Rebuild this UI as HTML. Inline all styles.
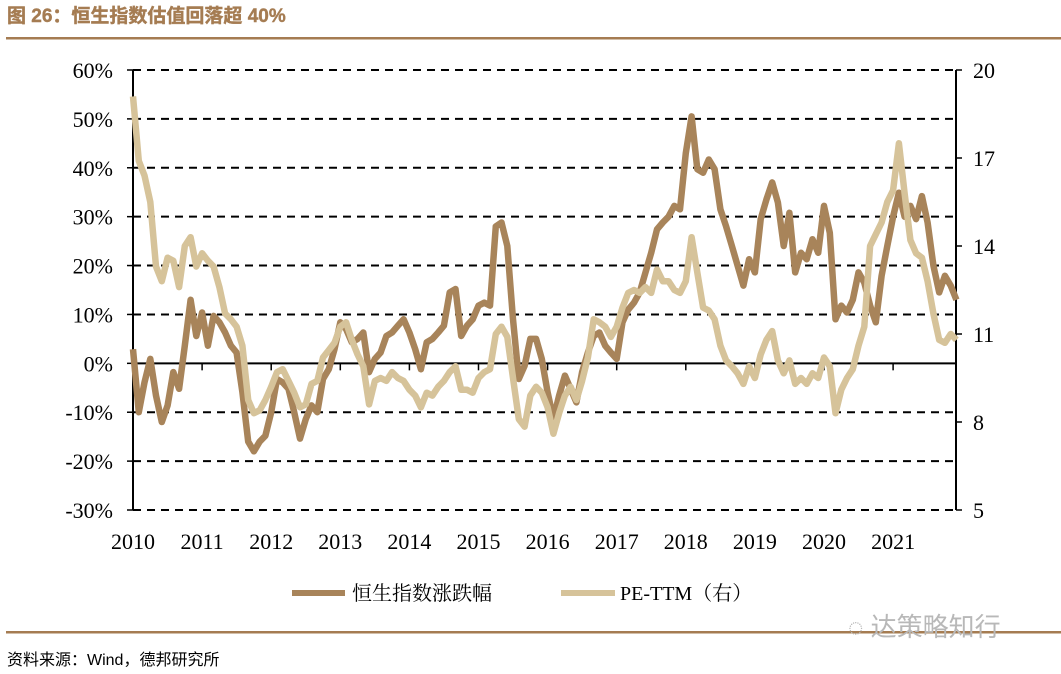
<!DOCTYPE html>
<html><head><meta charset="utf-8"><style>
body{margin:0;background:#fff;}
svg{display:block;font-family:"Liberation Serif","Noto Serif CJK SC",serif;}
</style></head><body>
<svg id="chart" width="1061" height="674" viewBox="0 0 1061 674">
<text x="7" y="22" font-family="Liberation Sans, Noto Sans CJK SC, sans-serif" font-weight="bold" font-size="19" fill="#a57c52" stroke="#a57c52" stroke-width="0.4">图 26：恒生指数估值回落超 40%</text>
<rect x="6" y="37" width="1055" height="2.5" fill="#a57c52"/>
<g id="grid"></g>
<g id="axes"></g>
<g id="series"></g>
<g>
<line x1="292" y1="593" x2="345" y2="593" stroke="#a8845a" stroke-width="6"/>
<text x="352" y="600" font-size="20" font-family="Liberation Serif, Noto Serif CJK SC, serif">恒生指数涨跌幅</text>
<line x1="561" y1="593" x2="615" y2="593" stroke="#d6c39a" stroke-width="6"/>
<text x="620" y="600" font-size="20">PE-TTM（右）</text>
</g>
<rect x="6" y="631" width="1055" height="2.5" fill="#a57c52"/>
<text x="848" y="636" font-size="26" fill="#b8b8b8" font-family="Liberation Sans, Noto Sans CJK SC, sans-serif">◌ 达策略知行</text>
<text x="7" y="665" font-size="16" font-family="Liberation Sans, Noto Sans CJK SC, sans-serif">资料来源：Wind，德邦研究所</text>
</svg>
<script>
const leftTicks=[60,50,40,30,20,10,0,-10,-20,-30];
const rightTicks=[20,17,14,11,8,5];
const yearLabels=["2010","2011","2012","2013","2014","2015","2016","2017","2018","2019","2020","2021"];
const hsiChange=[2.9,-10,-3.9,0.9,-6.6,-12,-8.6,-1.8,-5.2,3.6,13,5.6,
10.4,3.6,9.7,8.4,6.3,3.6,2.2,-5.9,-16,-18,-16,-14.8,
-10,-3.2,-3.9,-5.2,-10,-15.4,-11.4,-8.6,-10,-3.2,-1.2,2.9,
8.4,7,4.3,5,6.3,-1.8,0.9,2.2,5.6,6.3,7.7,9,
6.3,2.9,-1.2,4.3,5,6.3,7.7,14.5,15.2,5.6,7.7,9,
11.8,12.4,11.8,28,28.8,24,9,-3.2,-0.5,5,5,0.9,
-5.9,-11.4,-6.6,-2.5,-5.2,-8,-1.8,2.2,5.6,6.3,3.6,2.2,
0.9,8.4,11,12.4,14.5,18.6,22.6,27.4,28.8,30,32.2,31.5,
43,50.5,39.7,39,41.7,39.7,31.5,28,24,20,15.9,21.3,
18.6,29.5,33.5,37,32.9,24,30.8,18.6,22.6,21.3,25.4,22.6,
32.2,26.7,9,11.8,10.4,13,18.6,16.5,11.8,8.4,17.9,24,
30,34.9,30,32.2,29.5,34.2,28.8,20,14.5,17.9,15.9,13];
const peTTM=[19.1,16.9,16.4,15.5,13.3,12.8,13.6,13.5,12.6,14.0,14.3,13.3,
13.75,13.5,13.3,12.6,11.7,11.5,11.25,10.6,8.75,8.3,8.4,8.75,
9.2,9.7,9.8,9.4,9.0,8.5,8.6,9.3,9.4,10.2,10.45,10.7,
11.25,11.4,10.8,10.3,9.9,8.6,9.4,9.5,9.4,9.7,9.5,9.4,
9.1,8.9,8.5,9.0,8.9,9.2,9.4,9.7,9.9,9.1,9.1,9.0,
9.5,9.7,9.8,11.0,11.25,10.9,9.5,8.1,7.84,8.9,9.2,9.0,
8.5,7.6,8.3,8.9,9.2,8.75,9.4,10.2,11.5,11.4,11.25,10.9,
11.25,11.9,12.4,12.5,12.4,12.6,12.4,13.2,12.8,12.8,12.5,12.4,
12.8,14.3,13.1,11.9,11.8,11.5,10.6,10.1,9.9,9.66,9.3,9.9,
9.5,10.3,10.8,11.1,10.1,9.66,10.1,9.3,9.5,9.3,9.66,9.5,
10.2,9.9,8.3,9.1,9.5,9.8,10.6,11.25,14.0,14.4,14.8,15.5,
15.9,17.5,15.8,14.2,13.75,13.6,12.8,11.7,10.8,10.7,11.0,10.8];

const NS="http://www.w3.org/2000/svg";
const X0=133,YEARW=69.1,XR=956,YT=70,YB=510;
const xScale=m=>X0+YEARW*m/12;
const yLeft=v=>YT+(60-v)*(YB-YT)/90;
const yRight=v=>YT+(20-v)*(YB-YT)/15;
function mk(tag,attrs,parent){const e=document.createElementNS(NS,tag);for(const k in attrs)e.setAttribute(k,attrs[k]);parent.appendChild(e);return e;}
const grid=document.getElementById('grid'),axes=document.getElementById('axes'),series=document.getElementById('series');

leftTicks.forEach(t=>{
  const y=yLeft(t);
  if(t!==0){const g=mk('line',{x1:X0,x2:XR,y1:y,y2:y,stroke:'#000','stroke-width':2,'stroke-dasharray':'8,6'},grid);
  
  }
  const tk=mk('line',{x1:X0-6,x2:X0,y1:y,y2:y,stroke:'#000','stroke-width':1.5},axes);
  
  
  const tx=mk('text',{x:X0-20,y:y+8,'text-anchor':'end','font-size':22},axes);
  tx.textContent=t+'%';
  
  
});
rightTicks.forEach(t=>{
  const y=yRight(t);
  const tk=mk('line',{x1:XR,x2:XR+6,y1:y,y2:y,stroke:'#000','stroke-width':1.5},axes);
  
  
  const tx=mk('text',{x:XR+17,y:y+8,'font-size':22},axes);
  tx.textContent=t;
  
  
});
const la=mk('line',{x1:X0,x2:X0,y1:YT,y2:YB,stroke:'#000','stroke-width':2},axes);


const ra=mk('line',{x1:XR,x2:XR,y1:YT,y2:YB,stroke:'#000','stroke-width':2},axes);


const y0=yLeft(0);
const xa=mk('line',{x1:X0,x2:XR,y1:y0,y2:y0,stroke:'#000','stroke-width':2},axes);


yearLabels.forEach((lab,i)=>{
  const x=xScale(i*12);
  const tk=mk('line',{x1:x,x2:x,y1:y0,y2:y0+7,stroke:'#000','stroke-width':1.5},axes);
  
  
  const tx=mk('text',{x:x,y:549,'text-anchor':'middle','font-size':22},axes);
  tx.textContent=lab;
  
  
});
function pathOf(arr,ys){return arr.map((v,i)=>(i?'L':'M')+xScale(i).toFixed(1)+','+ys(v).toFixed(1)).join(' ');}
const p1=mk('path',{d:pathOf(hsiChange,yLeft),fill:'none',stroke:'#a8845a','stroke-width':6.5,'stroke-linejoin':'round'},series);


const p2=mk('path',{d:pathOf(peTTM,yRight),fill:'none',stroke:'#d6c39a','stroke-width':6.5,'stroke-linejoin':'round'},series);


</script>
</body></html>
